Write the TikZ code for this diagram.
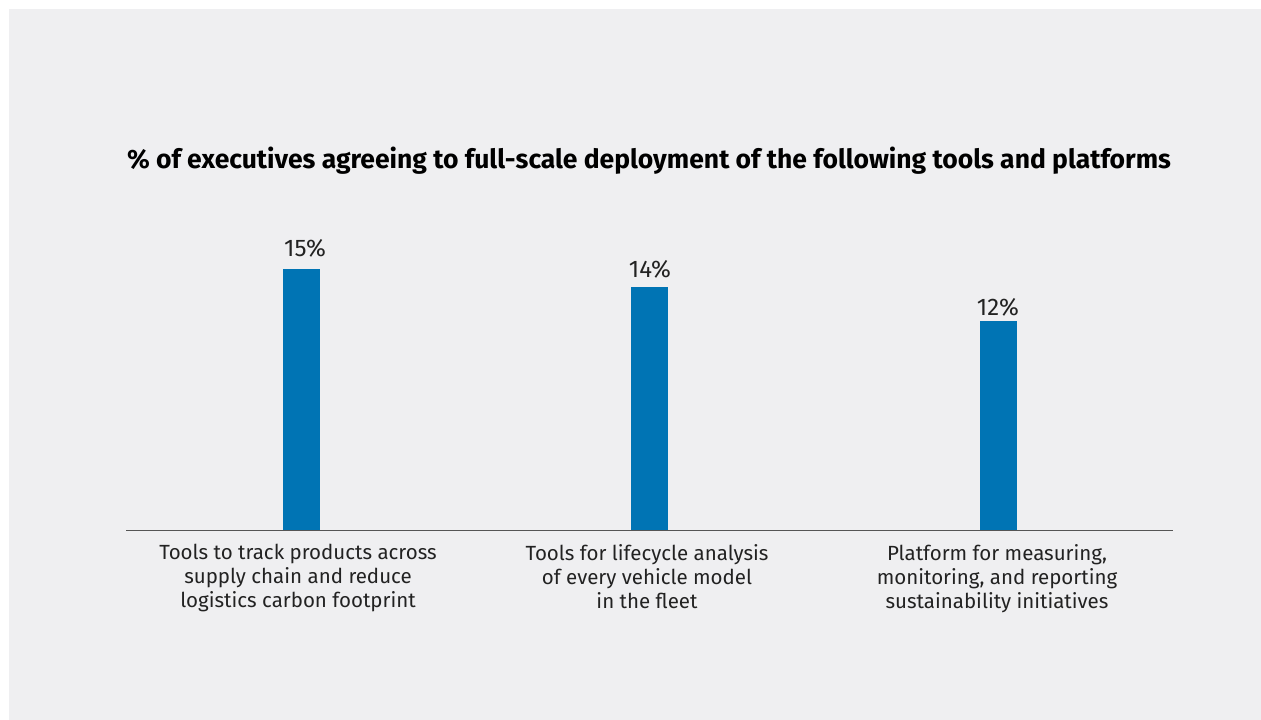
\documentclass[tikz,border=0pt]{standalone}
\usepackage{fontspec}
\setmainfont{Fira Sans}
\definecolor{bg}{HTML}{EFEFF1}
\definecolor{barblue}{HTML}{0074B4}
\definecolor{axisgray}{HTML}{555555}
\definecolor{txt}{HTML}{222222}
\begin{document}
\begin{tikzpicture}[x=1pt,y=-1pt,
  bar/.style={fill=barblue,draw=none},
  val/.style={font=\fontsize{24}{26}\selectfont,text=txt,anchor=base,inner sep=0pt},
  cat/.style={font=\fontsize{20.5}{24}\selectfont,text=txt,align=center,anchor=north,inner sep=0pt},
  ttl/.style={font=\bfseries\fontsize{26.5}{28}\selectfont,text=black,anchor=base,inner sep=0pt}]
\useasboundingbox (0,0) rectangle (1261,720);
\fill[white] (0,0) rectangle (1261,720);
\fill[bg] (9,9) rectangle (1261,720);
\node[ttl] (title) at (649,168) {\% of executives agreeing to full-scale deployment of the following tools and platforms};
\fill[bar] (283,269) rectangle (320,530);
\fill[bar] (631,287) rectangle (668,530);
\fill[bar] (980,321) rectangle (1017,530);
\coordinate (axL) at (126,530.5);
\coordinate (axR) at (1173,530.5);
\draw[axisgray,line width=1.2pt] (axL) -- (axR);
\node[val] (v1) at (305,256) {15\%};
\node[val] (v2) at (650,277) {14\%};
\node[val] (v3) at (998,315) {12\%};
\node[cat] (c1) at (298,544) {Tools to track products across\\supply chain and reduce\\logistics carbon footprint};
\node[cat] (c2) at (647,544) {Tools for lifecycle analysis\\of every vehicle model\\in the fleet};
\node[cat] (c3) at (997,544) {Platform for measuring,\\monitoring, and reporting\\sustainability initiatives};
\end{tikzpicture}
\end{document}
